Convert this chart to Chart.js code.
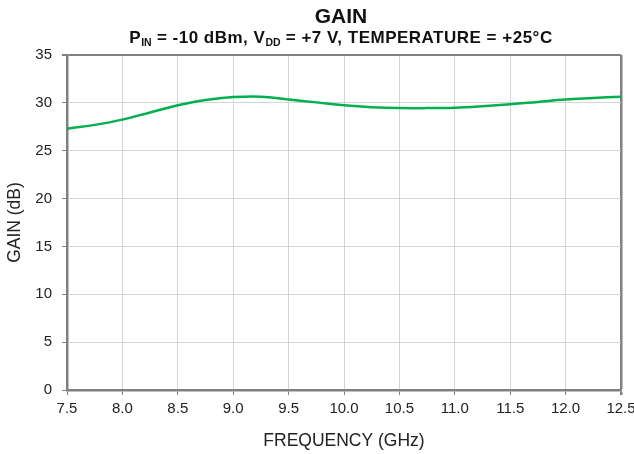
<!DOCTYPE html>
<html>
<head>
<meta charset="utf-8">
<script src="https://cdn.jsdelivr.net/npm/chart.js@4"></script>
<style>
  html, body { margin: 0; padding: 0; background: #fff; }
  #wrap { position: relative; width: 634px; height: 454px; font-family: 'Liberation Sans', Arial, sans-serif; }
  canvas { position: absolute; left: 0; top: 0; }
  .title { position: absolute; left: 67px; width: 548px; text-align: center; font-weight: bold; color: #111; white-space: nowrap; }
  #t1 { top: 5px; font-size: 21px; line-height: 21px; }
  #t2 { top: 29px; font-size: 17px; line-height: 17px; letter-spacing: 0.5px; }
  #t2 sub { font-size: 10.5px; vertical-align: -3px; line-height: 0; letter-spacing: 0; }
</style>
</head>
<body>
<div id="wrap">
  <canvas id="chart" width="634" height="454"></canvas>
  <div class="title" id="t1">GAIN</div>
  <div class="title" id="t2">P<sub>IN</sub> = -10 dBm, V<sub>DD</sub> = +7 V, TEMPERATURE = +25°C</div>
</div>
<script>
// frequency in GHz, gain in dB
const FREQ = [7.5, 7.75, 8.0, 8.25, 8.5, 8.75, 9.0, 9.25, 9.5, 9.75, 10.0,
  10.25, 10.5, 10.75, 11.0, 11.25, 11.5, 11.75, 12.0, 12.25, 12.5];
const GAIN = [27.3, 27.7, 28.25, 29.0, 29.75, 30.3, 30.6, 30.65, 30.35, 30.05, 29.75,
  29.55, 29.45, 29.45, 29.5, 29.65, 29.85, 30.1, 30.35, 30.5, 30.65];

const AXIS = '#808080';
const GRID = '#d4d4d4';
const font = { family: "'Liberation Sans', Arial, sans-serif", size: 15 };
const titleFont = { ...font, size: 17.5 };

// the last gridline on each axis doubles as the plot frame
const edge = (max) => (c) => (c.tick && c.tick.value === max);

new Chart(document.getElementById('chart'), {
  type: 'scatter',
  data: {
    datasets: [{
      data: FREQ.map((f, i) => ({ x: f, y: GAIN[i] })),
      showLine: true,
      borderColor: '#00b050',
      borderWidth: 2.5,
      pointRadius: 0,
      tension: 0.4,
      fill: false,
    }],
  },
  options: {
    responsive: false,
    animation: false,
    layout: { padding: { top: 55, right: 0, left: 0, bottom: 0 } },
    plugins: { legend: { display: false }, tooltip: { enabled: false } },
    scales: {
      x: {
        type: 'linear',
        min: 7.5,
        max: 12.5,
        afterFit: (s) => { s.height = 64; s.paddingRight = 13; },
        ticks: { stepSize: 0.5, color: '#222', font, padding: 5, callback: (v) => v.toFixed(1) },
        grid: {
          color: (c) => (edge(12.5)(c) ? AXIS : GRID),
          lineWidth: (c) => (edge(12.5)(c) ? 2.5 : 1),
          tickLength: 5,
          tickColor: AXIS,
        },
        border: { color: AXIS, width: 2.5 },
        title: { display: true, text: 'FREQUENCY (GHz)', color: '#222', font: titleFont, padding: { top: 0, bottom: 2 } },
      },
      y: {
        min: 0,
        max: 35,
        afterFit: (s) => { s.width = 67; },
        ticks: { stepSize: 5, color: '#222', font, padding: 10 },
        grid: {
          color: (c) => (edge(35)(c) ? AXIS : GRID),
          lineWidth: (c) => (edge(35)(c) ? 2 : 1),
          tickLength: 5,
          tickColor: AXIS,
        },
        border: { color: AXIS, width: 2.5 },
        title: { display: true, text: 'GAIN (dB)', color: '#222', font: titleFont, padding: { top: 5, bottom: 0 } },
      },
    },
  },
});
</script>
</body>
</html>
